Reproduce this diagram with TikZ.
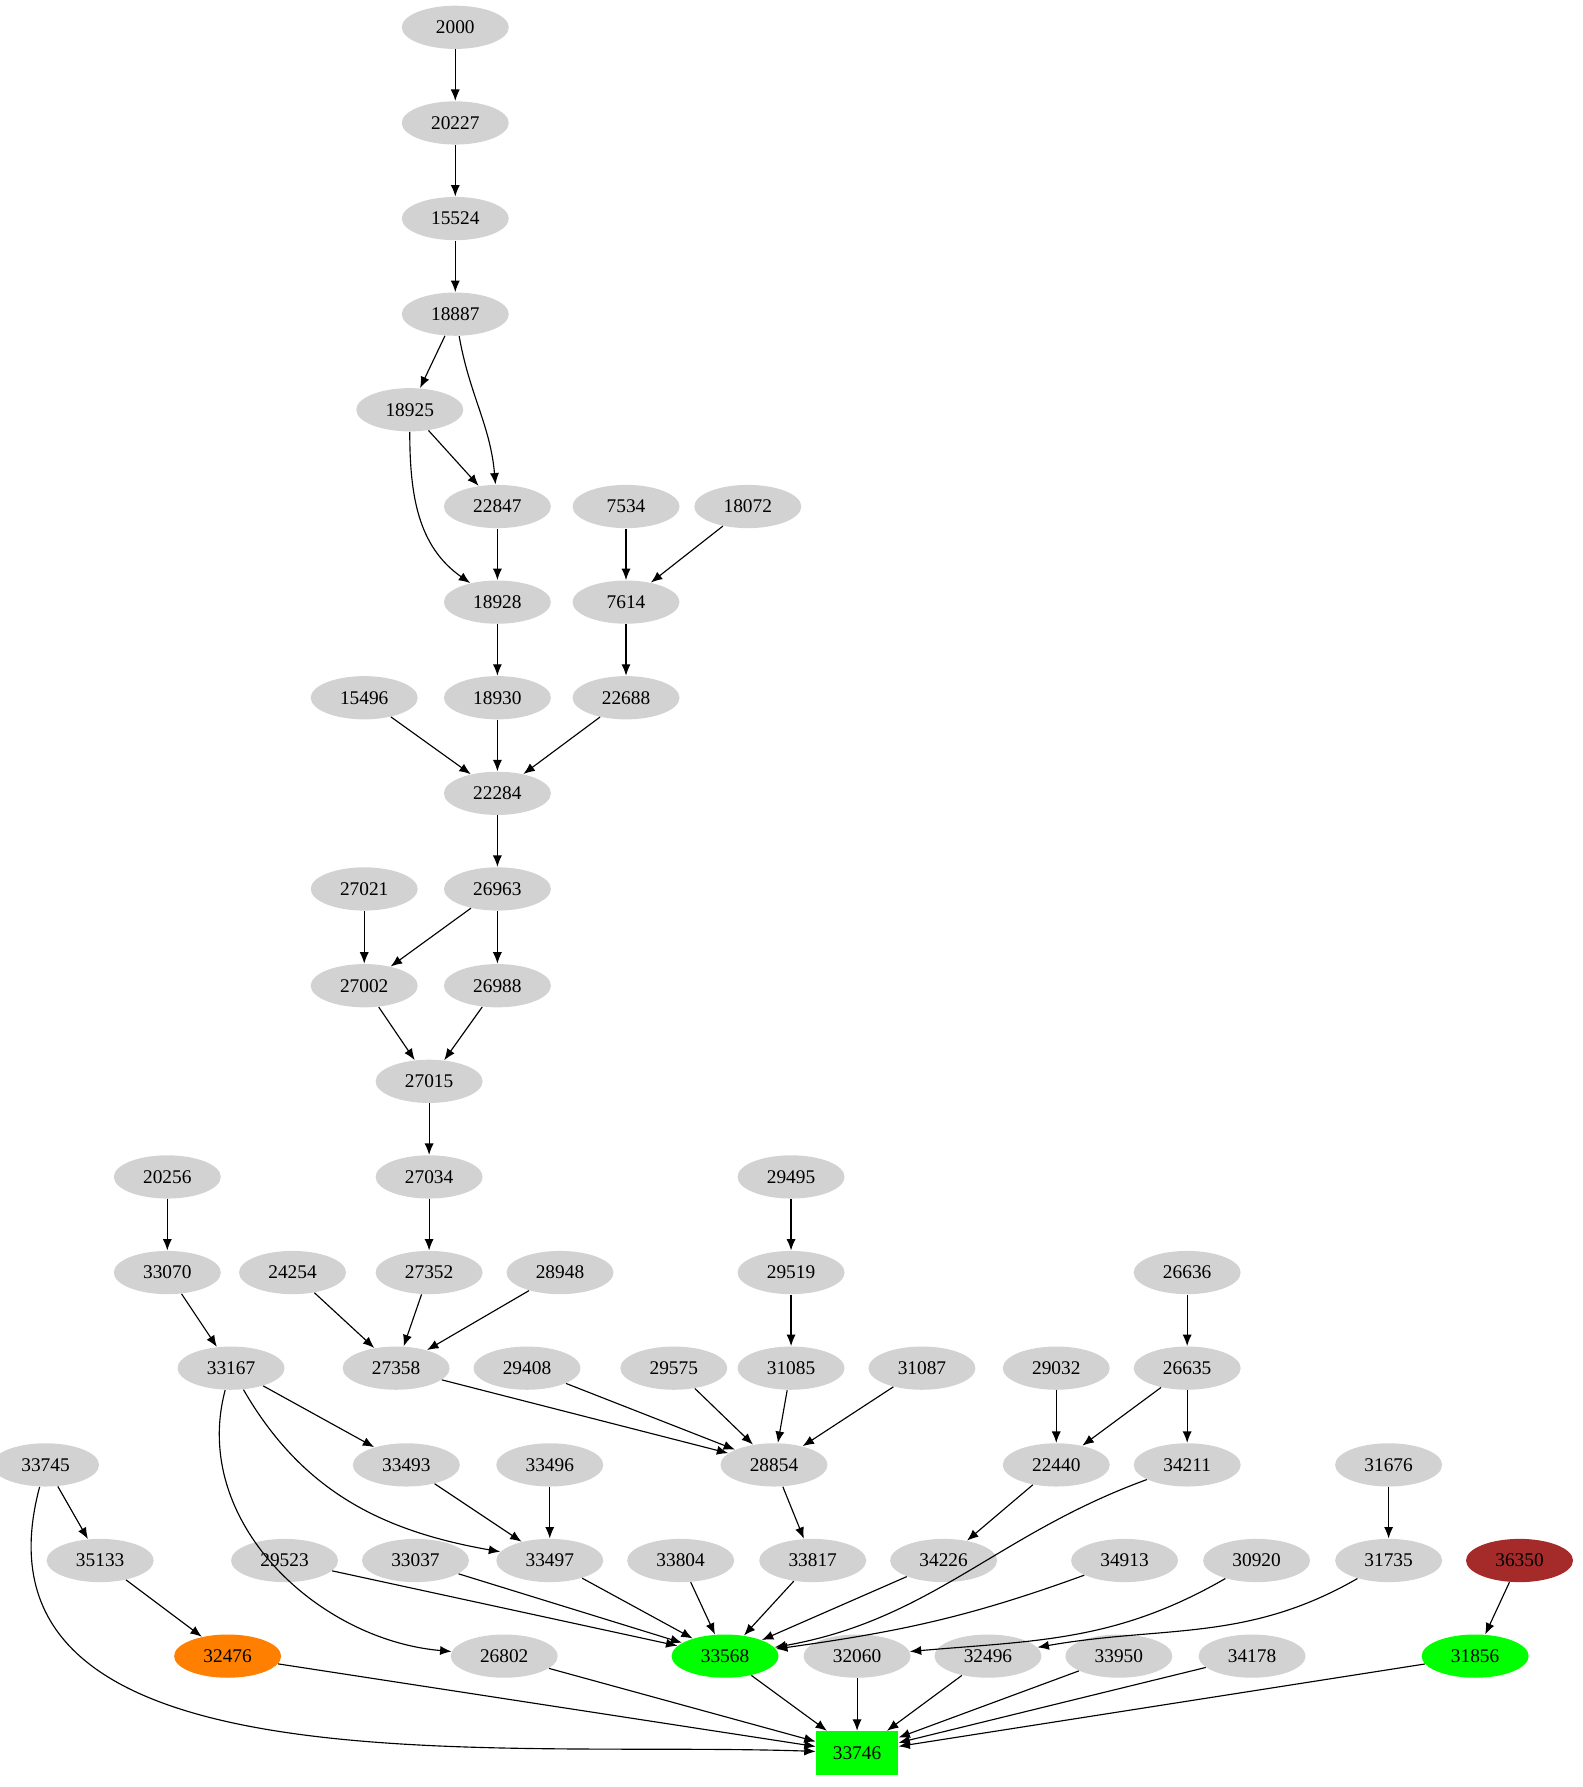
\documentclass[tikz,border=0pt]{standalone}
\usepackage{fontspec}
\setmainfont{Liberation Serif}
\usetikzlibrary{shapes.geometric,arrows.meta}
\begin{document}
\begin{tikzpicture}[x=0.5pt,y=-0.5pt,
 nd/.style={ellipse,fill=gray!35,minimum width=47pt,minimum height=19pt,inner sep=0pt,font=\fontsize{8.5}{10}\selectfont},
 e/.style={-{Latex[length=5pt,width=4pt]},line width=0.5pt}]
\useasboundingbox (0,0) rectangle (1390,1570);
\foreach \n/\x/\y in {2000/400/24,20227/400/108,15524/400/192,18887/400/276,18925/360/360,
22847/437/445,7534/550/445,18072/657/445,18928/437/529,7614/550/529,
15496/320/613,18930/437/613,22688/550/613,22284/437/697,27021/320/781,26963/437/781,
27002/320/866,26988/437/866,27015/377/950,20256/147/1034,27034/377/1034,29495/695/1034,
33070/147/1118,24254/257/1118,27352/377/1118,28948/492/1118,29519/695/1118,26636/1043/1118,
33167/203/1202,27358/348/1202,29408/463/1202,29575/592/1202,31085/695/1202,31087/810/1202,29032/928/1202,26635/1043/1202,
33745/40/1287,33493/357/1287,33496/483/1287,28854/680/1287,22440/928/1287,34211/1043/1287,31676/1220/1287,
35133/88/1371,29523/250/1371,33037/365/1371,33497/483/1371,33804/598/1371,33817/714/1371,34226/829/1371,34913/988/1371,30920/1104/1371,31735/1220/1371,
26802/443/1455,32060/753/1455,32496/868/1455,33950/983/1455,34178/1100/1455}
  \node[nd] (n\n) at (\x,\y) {\n};
\node[nd,fill=orange] (n32476) at (200,1455) {32476};
\node[nd,fill=green] (n33568) at (637,1455) {33568};
\node[nd,fill=green] (n31856) at (1296,1455) {31856};
\node[nd,fill={rgb,255:red,165;green,42;blue,42}] (n36350) at (1335,1371) {36350};
\node[rectangle,fill=green,minimum width=36pt,minimum height=19pt,inner sep=0pt,font=\fontsize{8.5}{10}\selectfont] (n33746) at (753,1540) {33746};
\foreach \a/\b in {2000/20227,20227/15524,15524/18887,18887/18925,18925/22847,22847/18928,7534/7614,18072/7614,
18928/18930,7614/22688,15496/22284,18930/22284,22688/22284,22284/26963,27021/27002,26963/27002,26963/26988,
27002/27015,26988/27015,27015/27034,27034/27352,20256/33070,33070/33167,24254/27358,27352/27358,28948/27358,
29495/29519,29519/31085,26636/26635,27358/28854,29408/28854,29575/28854,31085/28854,31087/28854,
29032/22440,26635/22440,26635/34211,33167/33493,33493/33497,33496/33497,28854/33817,22440/34226,31676/31735,
33745/35133,35133/32476,29523/33568,33037/33568,33497/33568,33804/33568,33817/33568,34226/33568,36350/31856,
32476/33746,26802/33746,33568/33746,32060/33746,32496/33746,33950/33746,34178/33746,31856/33746}
  \draw[e] (n\a) -- (n\b);
\draw[e] (n18887) to[out=-80,in=95] (n22847);
\draw[e] (n18925) to[out=-90,in=145] (n18928);
\draw[e] (n33167) to[out=-60,in=170] (n33497);
\draw[e] (n33167) to[out=-105,in=175] (n26802);
\draw[e] (n33745) to[out=-105,in=178] (n33746);
\draw[e] (n34211) to[out=200,in=10] (n33568);
\draw[e] (n34913) to[out=-160,in=8] (n33568);
\draw[e] (n30920) to[out=-150,in=5] (n32060);
\draw[e] (n31735) to[out=-150,in=10] (n32496);
\end{tikzpicture}
\end{document}
